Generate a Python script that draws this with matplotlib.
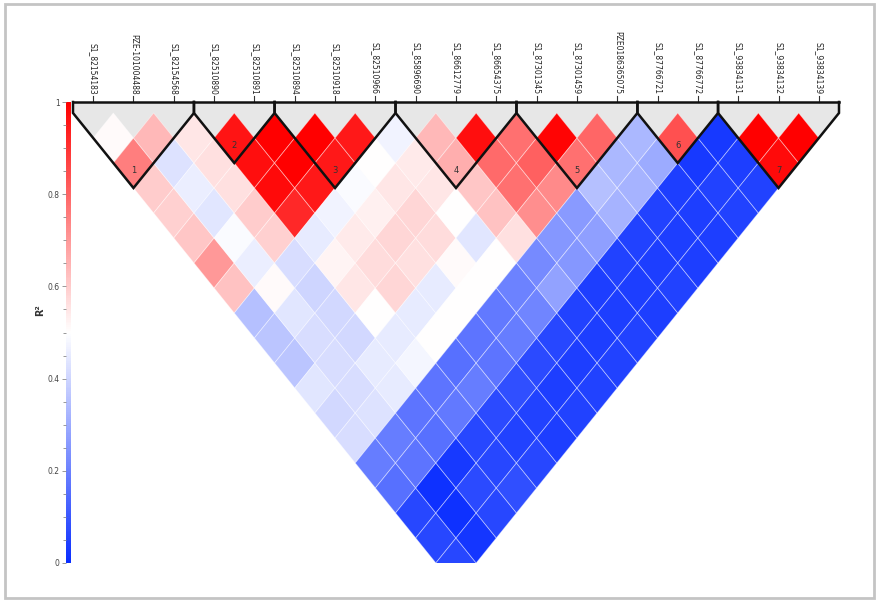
"""
LD heatmap (R2) of 19 markers with haplotype blocks.
"""

import numpy as np
import matplotlib
matplotlib.use("Agg")
import matplotlib.pyplot as plt
from matplotlib.colors import LinearSegmentedColormap, Normalize
from matplotlib.cm import ScalarMappable
from matplotlib.collections import PolyCollection
from matplotlib.patches import Polygon, Rectangle
from matplotlib.ticker import MultipleLocator

markers = [
    "S1_82154183", "PZE-101004488", "S1_82154568", "S1_82510890",
    "S1_82510891", "S1_82510894", "S1_82510918", "S1_82510966",
    "S1_85896690", "S1_86612779", "S1_86654375", "S1_87301345",
    "S1_87301459", "PZE0186365075", "S1_87766721", "S1_87766772",
    "S1_93834131", "S1_93834132", "S1_93834139",
]

# r2 of marker i with markers i+1 .. 19
r2_rows = [
    [0.51, 0.75, 0.60, 0.59, 0.61, 0.70, 0.62, 0.35, 0.36, 0.36, 0.44, 0.41, 0.42, 0.19, 0.16, 0.06, 0.06, 0.06],
    [0.64, 0.43, 0.46, 0.44, 0.49, 0.46, 0.51, 0.44, 0.42, 0.42, 0.42, 0.43, 0.19, 0.17, 0.01, 0.01, 0.02],
    [0.55, 0.56, 0.56, 0.60, 0.59, 0.42, 0.40, 0.41, 0.41, 0.45, 0.45, 0.17, 0.16, 0.03, 0.07, 0.06],
    [0.96, 0.97, 0.98, 0.92, 0.45, 0.52, 0.55, 0.50, 0.45, 0.48, 0.17, 0.18, 0.06, 0.06, 0.08],
    [1.00, 1.00, 0.95, 0.47, 0.54, 0.57, 0.58, 0.45, 0.50, 0.16, 0.19, 0.07, 0.05, 0.06],
    [1.00, 0.95, 0.49, 0.53, 0.58, 0.56, 0.45, 0.50, 0.17, 0.17, 0.08, 0.05, 0.04],
    [0.95, 0.50, 0.55, 0.58, 0.57, 0.51, 0.50, 0.18, 0.19, 0.07, 0.04, 0.05],
    [0.47, 0.54, 0.55, 0.50, 0.44, 0.50, 0.20, 0.21, 0.06, 0.04, 0.05],
    [0.64, 0.66, 0.61, 0.62, 0.56, 0.22, 0.28, 0.05, 0.04, 0.05],
    [0.97, 0.79, 0.78, 0.72, 0.25, 0.25, 0.04, 0.04, 0.05],
    [0.78, 0.81, 0.73, 0.26, 0.27, 0.05, 0.04, 0.04],
    [0.99, 0.78, 0.35, 0.32, 0.05, 0.04, 0.05],
    [0.80, 0.33, 0.32, 0.05, 0.04, 0.04],
    [0.33, 0.30, 0.04, 0.04, 0.04],
    [0.84, 0.03, 0.05, 0.05],
    [0.03, 0.04, 0.05],
    [1.00, 0.98],
    [1.00],
]

# first and last marker (0-based) of each block
blocks = [(0, 2), (3, 4), (5, 7), (8, 10), (11, 13), (14, 15), (16, 18)]
block_names = ["1", "2", "3", "4", "5", "6", "7"]

n = len(markers)
ld = np.full((n, n), np.nan)
for i, row in enumerate(r2_rows):
    for k, value in enumerate(row):
        ld[i, i + 1 + k] = value

cmap = LinearSegmentedColormap.from_list(
    "ld", ["#0a2eff", "#ffffff", "#ff0000"]
)
norm = Normalize(0, 1)

W, H = 879, 603
fig = plt.figure(figsize=(W / 100, H / 100), dpi=100)

ax = fig.add_axes([73 / W, 1 - 563 / H, 766 / W, 461 / H])
top = -0.44
ax.set_xlim(-0.5, n - 0.5)
ax.set_ylim(n - 1, top)
ax.axis("off")

# grey block triangles
for start, end in blocks:
    apex = ((start + end) / 2, end - start + 1)
    shape = [
        (start - 0.5, top), (end + 0.5, top), (end + 0.5, 0),
        apex, (start - 0.5, 0),
    ]
    ax.add_patch(Polygon(shape, closed=True, facecolor="#e7e7e7",
                         edgecolor="none", zorder=1))

# LD cells
cells = []
colors = []
for i in range(n):
    for j in range(i + 1, n):
        xc = (i + j) / 2
        d = j - i
        cells.append([(xc - 0.5, d), (xc, d - 1), (xc + 0.5, d), (xc, d + 1)])
        colors.append(cmap(norm(ld[i, j])))

ax.add_collection(PolyCollection(
    cells, facecolors=colors, edgecolors=(1, 1, 1, 0.45),
    linewidths=0.6, zorder=2
))

# block outlines and numbers
for (start, end), name in zip(blocks, block_names):
    apex = ((start + end) / 2, end - start + 1)
    ax.plot(
        [start - 0.5, start - 0.5, apex[0], end + 0.5, end + 0.5],
        [top, 0, apex[1], 0, top],
        color="#111111", lw=1.8, zorder=4, clip_on=False,
        solid_joinstyle="miter"
    )
    ax.text(apex[0], end - start + 0.28, name, fontsize=6,
            ha="center", va="center", color="#333333", zorder=5)

ax.plot([-0.5, n - 0.5], [top, top], color="#111111", lw=1.8,
        zorder=4, clip_on=False)

# marker names
for i, name in enumerate(markers):
    ax.plot([i, i], [top, top - 0.24], color="#333333", lw=0.8,
            clip_on=False)
    ax.text(i, top - 0.3, name, rotation=270, ha="center", va="bottom",
            fontsize=5.5, color="#222222", clip_on=False)

# colour scale
cax = fig.add_axes([66 / W, 1 - 563 / H, 5 / W, 461 / H])
cb = fig.colorbar(ScalarMappable(norm=norm, cmap=cmap), cax=cax)
cb.outline.set_visible(False)
cax.yaxis.set_ticks_position("left")
cax.set_yticks([0, 0.2, 0.4, 0.6, 0.8, 1])
cax.set_yticklabels(["0", "0.2", "0.4", "0.6", "0.8", "1"])
cax.yaxis.set_minor_locator(MultipleLocator(0.05))
cax.tick_params(which="both", labelsize=5.5, length=3, width=0.6,
                color="#888888", labelcolor="#444444", pad=1.5)
cax.tick_params(which="minor", length=2)

fig.text(40 / W, 1 - 310 / H, "R²", rotation=90, fontsize=7,
         fontweight="bold", ha="center", va="center", color="#333333")

fig.add_artist(Rectangle(
    (0.006, 0.008), 0.988, 0.986, transform=fig.transFigure,
    fill=False, edgecolor="#c4c4c4", lw=2
))

fig.savefig("out.png", dpi=100)
